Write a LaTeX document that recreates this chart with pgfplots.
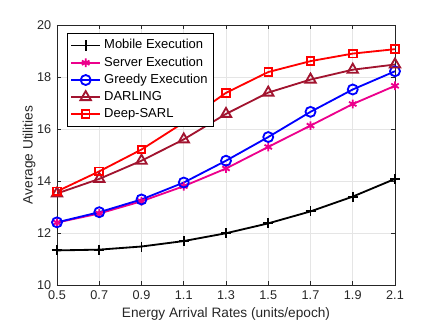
\documentclass[border=0pt]{standalone}
\usepackage{pgfplots}
\pgfplotsset{compat=1.18}
\usepackage{fontspec}
\setmainfont{Liberation Sans}
\definecolor{darling}{rgb}{0.635,0.078,0.184}
\definecolor{axgray}{gray}{0.15}
\begin{document}
\begin{tikzpicture}
\begin{axis}[
  scale only axis,
  width=202.8pt, height=156pt,
  xmin=0.5, xmax=2.1, ymin=10, ymax=20,
  xtick={0.5,0.7,...,2.1},
  ytick={10,12,...,20},
  xticklabel style={/pgf/number format/.cd,fixed,fixed zerofill,precision=1},
  /pgf/number format/assume math mode=true,
  ticklabel style={font=\fontsize{7.6}{9}\selectfont, text=black!85},
  label style={font=\fontsize{8.2}{10}\selectfont, text=black!85},
  xlabel={Energy Arrival Rates (units/epoch)},
  ylabel={Average Utilities},
  xlabel style={yshift=2pt},
  ylabel style={yshift=-6pt},
  grid=major,
  major grid style={gray!20, line width=0.4pt},
  axis line style={axgray, line width=0.5pt},
  tick style={axgray, line width=0.5pt},
  tick align=inside,
  major tick length=2.5pt,
  legend style={at={(0.03,0.97)}, anchor=north west, draw=black, line width=0.5pt,
    font=\fontsize{7.8}{9}\selectfont, row sep=-0.8pt, inner sep=1.8pt},
  legend cell align=left,
  every axis plot/.append style={line width=1.1pt},
]
\addplot[black, mark=+, mark size=3pt] coordinates {
 (0.5,11.33) (0.7,11.36) (0.9,11.48) (1.1,11.69) (1.3,11.99) (1.5,12.37) (1.7,12.83) (1.9,13.40) (2.1,14.08)};
\addlegendentry{Mobile Execution}
\addplot[magenta, mark=asterisk, mark size=2.6pt] coordinates {
 (0.5,12.40) (0.7,12.75) (0.9,13.22) (1.1,13.80) (1.3,14.48) (1.5,15.31) (1.7,16.13) (1.9,16.96) (2.1,17.66)};
\addlegendentry{Server Execution}
\addplot[blue, mark=o, mark size=3pt] coordinates {
 (0.5,12.41) (0.7,12.80) (0.9,13.29) (1.1,13.94) (1.3,14.78) (1.5,15.69) (1.7,16.66) (1.9,17.52) (2.1,18.22)};
\addlegendentry{Greedy Execution}
\addplot[darling, mark=triangle, mark size=3.6pt] coordinates {
 (0.5,13.52) (0.7,14.08) (0.9,14.78) (1.1,15.60) (1.3,16.58) (1.5,17.40) (1.7,17.90) (1.9,18.28) (2.1,18.48)};
\addlegendentry{DARLING}
\addplot[red, mark=square, mark size=2.3pt] coordinates {
 (0.5,13.60) (0.7,14.37) (0.9,15.21) (1.1,16.25) (1.3,17.39) (1.5,18.19) (1.7,18.61) (1.9,18.90) (2.1,19.07)};
\addlegendentry{Deep-SARL}
\end{axis}
\path (current axis.south west) ++(-34.2pt,-25.8pt) coordinate (bl);
\path (current axis.north east) ++(25.2pt,15pt) coordinate (tr);
\path (bl) rectangle (tr);
\end{tikzpicture}
\end{document}
